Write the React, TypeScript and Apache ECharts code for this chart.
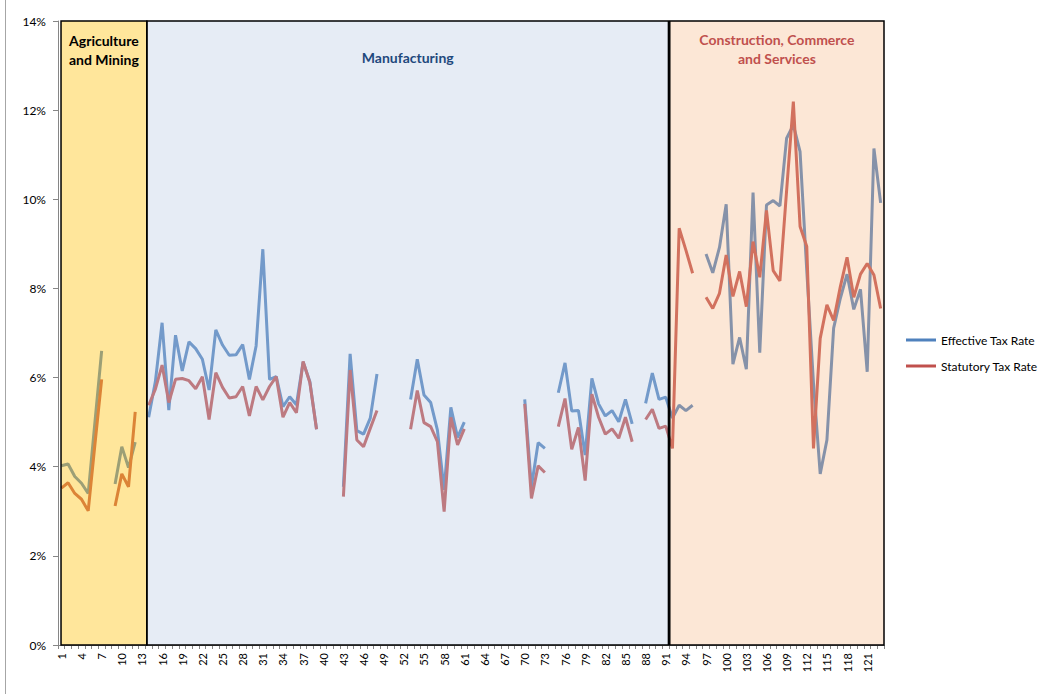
import React, { useEffect, useRef } from "react";
import * as echarts from "echarts";

const categories: string[] = Array.from({ length: 123 }, (_, i) => String(i + 1));

const effectiveRate: (number | null)[] = [
  4.02, 4.06, 3.78, 3.63, 3.40, 5.0, 6.60, null, 3.61, 4.45, 3.98, 4.55, null,
  5.11, 5.91, 7.23, 5.27, 6.95, 6.15, 6.80, 6.65, 6.41, 5.72, 7.07, 6.73, 6.50, 6.51, 6.74, 5.96, 6.71, 8.88, 5.96, 6.02, 5.35, 5.57, 5.39, 6.35, 5.91, 4.84,
  null, null, null,
  3.55, 6.53, 4.81, 4.73, 5.09, 6.08,
  null, null, null, null,
  5.51, 6.41, 5.61, 5.44, 4.82, 3.48, 5.33, 4.66, 5.00,
  null, null, null, null, null, null, null, null,
  5.51, 3.55, 4.54, 4.41,
  null,
  5.66, 6.33, 5.25, 5.26, 4.26, 5.98, 5.41, 5.14, 5.26, 5.01, 5.51, 4.96,
  null,
  5.42, 6.10, 5.51, 5.56, 5.09, 5.38, 5.26, 5.38,
  null,
  8.77, 8.35, 8.92, 9.89, 6.30, 6.90, 6.19, 10.15, 6.56, 9.87, 9.97, 9.85, 11.37, 11.67, 11.07, 8.4, 5.87, 3.84, 4.60, 7.11, 7.78, 8.32, 7.53, 7.98, 6.13, 11.14, 9.92,
];

const statutoryRate: (number | null)[] = [
  3.52, 3.64, 3.40, 3.27, 3.01, 4.5, 5.96, null, 3.12, 3.84, 3.55, 5.23, null,
  5.38, 5.74, 6.28, 5.44, 5.96, 5.98, 5.93, 5.75, 6.02, 5.06, 6.11, 5.78, 5.54, 5.57, 5.80, 5.14, 5.80, 5.50, 5.80, 6.02, 5.11, 5.44, 5.21, 6.36, 5.89, 4.84,
  null, null, null,
  3.33, 6.17, 4.60, 4.45, 4.86, 5.26,
  null, null, null, null,
  4.84, 5.71, 4.99, 4.90, 4.56, 2.99, 5.11, 4.49, 4.85,
  null, null, null, null, null, null, null, null,
  5.41, 3.29, 4.02, 3.87,
  null,
  4.90, 5.53, 4.39, 4.88, 3.69, 5.63, 5.11, 4.73, 4.85, 4.64, 5.11, 4.56,
  null,
  5.06, 5.29, 4.86, 4.91, 4.41, 9.35, 8.86, 8.34,
  null,
  7.80, 7.55, 7.89, 8.75, 7.82, 8.38, 7.59, 9.05, 8.25, 9.75, 8.40, 8.17, 10.2, 12.19, 9.39, 8.94, 4.41, 6.88, 7.63, 7.28, 8.04, 8.70, 7.80, 8.32, 8.56, 8.30, 7.55,
];

const seriesNames = ["Effective Tax Rate", "Statutory Tax Rate"];
const sectorNames = ["Agriculture\nand Mining", "Manufacturing", "Construction, Commerce\nand Services"];
// sector spans in category units (category i is centred at i)
const sectorStart = [0.95, 13.75, 91.6];
const sectorEnd = [13.72, 91.4, 123.5];

const FONT = "Lato, 'Liberation Sans', sans-serif";

export default function App() {
  const ref = useRef<HTMLDivElement>(null);
  useEffect(() => {
    document.body.style.margin = "0";
    const chart = echarts.init(ref.current!, null, { renderer: "svg" });
    const sectorStyles = [
      { fill: "rgba(255,198,28,0.44)", color: "#000000", dist: 11 },
      { fill: "rgba(183,200,226,0.35)", color: "#1F497D", dist: 28 },
      { fill: "rgba(246,182,131,0.33)", color: "#C0504D", dist: 10 },
    ];
    chart.setOption({
      animation: false,
      backgroundColor: "#ffffff",
      grid: { left: 58, top: 21, width: 826, height: 624, containLabel: false },
      graphic: [
        {
          type: "line",
          shape: { x1: 5.5, y1: 0, x2: 5.5, y2: 694 },
          style: { stroke: "#a6a6a6", lineWidth: 1 },
          silent: true,
        },
      ],
      legend: {
        orient: "vertical",
        left: 901,
        top: 329,
        itemGap: 14,
        itemWidth: 30,
        itemHeight: 3,
        icon: "rect",
        data: seriesNames,
        textStyle: { fontSize: 12, fontFamily: FONT, color: "#000" },
      },
      xAxis: [
        {
          type: "category",
          data: categories,
          boundaryGap: true,
          axisLine: { lineStyle: { color: "#868686", width: 1 } },
          axisTick: { show: true, interval: 0, length: 4, lineStyle: { color: "#868686" } },
          axisLabel: {
            interval: 2,
            rotate: 90,
            fontSize: 11,
            fontFamily: FONT,
            color: "#000",
            margin: 8,
            hideOverlap: false,
          },
        },
        { type: "value", min: 0.5, max: 123.5, show: false },
      ],
      yAxis: {
        type: "value",
        min: 0,
        max: 14,
        interval: 2,
        splitLine: { show: false },
        axisLine: { show: true, lineStyle: { color: "#868686" } },
        axisTick: { show: true, length: 5, lineStyle: { color: "#868686" } },
        axisLabel: { formatter: "{value}%", fontSize: 12, fontFamily: FONT, color: "#000", margin: 12 },
      },
      series: [
        {
          name: seriesNames[0],
          type: "line",
          data: effectiveRate,
          showSymbol: false,
          symbol: "none",
          connectNulls: false,
          color: "#4F81BD",
          lineStyle: { width: 3, color: "#4F81BD" },
          z: 2,
        },
        {
          name: seriesNames[1],
          type: "line",
          data: statutoryRate,
          showSymbol: false,
          symbol: "none",
          connectNulls: false,
          color: "#C0504D",
          lineStyle: { width: 3, color: "#C0504D" },
          z: 2,
        },
        {
          type: "line",
          xAxisIndex: 1,
          yAxisIndex: 0,
          data: [],
          silent: true,
          markArea: {
            silent: true,
            z: 5,
            data: sectorNames.map((name, i) => [
              {
                name,
                xAxis: sectorStart[i],
                yAxis: 14,
                itemStyle: {
                  color: sectorStyles[i].fill,
                  borderColor: "#000",
                  borderWidth: 1.5,
                },
                label: {
                  show: true,
                  position: "insideTop",
                  distance: sectorStyles[i].dist,
                  color: sectorStyles[i].color,
                  fontWeight: "bold",
                  fontSize: 14,
                  lineHeight: 19,
                  fontFamily: FONT,
                  align: "center",
                },
              },
              { xAxis: sectorEnd[i], yAxis: 0 },
            ]),
          },
        },
      ],
    });
    return () => chart.dispose();
  }, []);
  return <div ref={ref} style={{ width: 1045, height: 694 }} />;
}
